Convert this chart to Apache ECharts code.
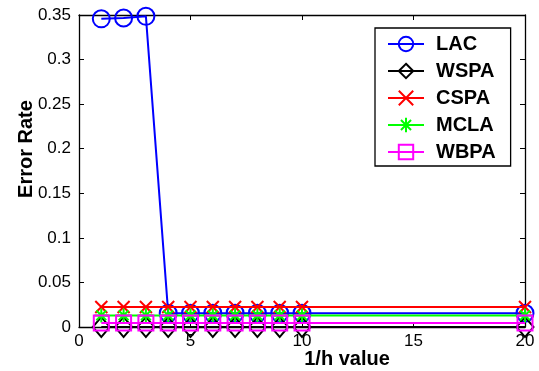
<!DOCTYPE html>
<html>
<head>
<meta charset="utf-8">
<script src="https://cdn.jsdelivr.net/npm/echarts@6/dist/echarts.min.js"></script>
<style>html,body{margin:0;padding:0;background:#fff}#c{width:539px;height:371px}</style>
</head>
<body>
<div id="c"></div>
<script>
var xValues = [1, 2, 3, 4, 5, 6, 7, 8, 9, 10, 20];
var seriesNames = ['LAC', 'WSPA', 'CSPA', 'MCLA', 'WBPA'];
var lacValues  = [0.3457, 0.3466, 0.3485, 0.0155, 0.0155, 0.0155, 0.0155, 0.0155, 0.0155, 0.0155, 0.0155];
var wspaValues = [0, 0, 0, 0, 0, 0, 0, 0, 0, 0, 0];
var cspaValues = [0.0225, 0.0225, 0.0225, 0.0225, 0.0225, 0.0225, 0.0225, 0.0225, 0.0225, 0.0225, 0.0225];
var mclaValues = [0.013, 0.013, 0.013, 0.013, 0.013, 0.013, 0.013, 0.013, 0.013, 0.013, 0.013];
var wbpaValues = [0.0045, 0.0045, 0.0045, 0.0045, 0.0045, 0.0045, 0.0045, 0.0045, 0.0045, 0.0045, 0.0045];
var xTicks = [0, 5, 10, 15, 20];
var yTicks = [0, 0.05, 0.1, 0.15, 0.2, 0.25, 0.3, 0.35];

function pairs(vals) { return xValues.map(function (x, i) { return [x, vals[i]]; }); }

var FONT = '"Liberation Sans", Arial, sans-serif';
var colors = ['#0000ff', '#000000', '#ff0000', '#00ff00', '#ff00ff'];
var symbols = [
  'circle',
  'diamond',
  'path://M0,0L10,10M0,10L10,0',
  'path://M5,0L5,10M0,5L10,5M1.5,1.5L8.5,8.5M1.5,8.5L8.5,1.5',
  'rect'
];
var sizes = [[17, 17], [17, 20], [12, 12], [14, 14], [15, 15]];
var allValues = [lacValues, wspaValues, cspaValues, mclaValues, wbpaValues];

var series = seriesNames.map(function (name, i) {
  return {
    name: name,
    type: 'line',
    data: pairs(allValues[i]),
    symbol: symbols[i],
    symbolSize: sizes[i],
    showAllSymbol: true,
    clip: false,
    lineStyle: { color: colors[i], width: 2 },
    itemStyle: { color: 'rgba(0,0,0,0)', borderColor: colors[i], borderWidth: 2 },
    emphasis: { disabled: true },
    z: 2 + i
  };
});

var chart = echarts.init(document.getElementById('c'));
chart.setOption({
  animation: false,
  backgroundColor: '#fff',
  grid: { left: 79, right: 14, top: 15, bottom: 44, show: false },
  legend: {
    orient: 'vertical',
    left: 375, top: 28,
    padding: [6, 15, 4, 12],
    itemWidth: 36, itemHeight: 18, itemGap: 7,
    backgroundColor: '#fff',
    borderColor: '#000', borderWidth: 1.3,
    textStyle: { fontFamily: FONT, fontWeight: 'bold', fontSize: 20, color: '#000', padding: [0, 0, 0, 7] },
    data: seriesNames
  },
  xAxis: [{
    type: 'value', min: 0, max: 20, interval: 5, position: 'bottom',
    axisLine: { onZero: false, lineStyle: { color: '#000', width: 1.3 } },
    axisTick: { inside: true, length: 5, lineStyle: { color: '#000' } },
    axisLabel: { fontFamily: FONT, fontSize: 17, color: '#000', margin: 6 },
    splitLine: { show: false }
  }, {
    type: 'value', min: 0, max: 20, interval: 5, position: 'top',
    axisLine: { onZero: false, lineStyle: { color: '#000', width: 1.3 } },
    axisTick: { inside: true, length: 5, lineStyle: { color: '#000' } },
    axisLabel: { show: false }, splitLine: { show: false }
  }],
  yAxis: [{
    type: 'value', min: 0, max: 0.35, interval: 0.05, position: 'left',
    axisLine: { show: true, onZero: false, lineStyle: { color: '#000', width: 1.3 } },
    axisTick: { show: true, inside: true, length: 5, lineStyle: { color: '#000' } },
    axisLabel: { fontFamily: FONT, fontSize: 17, color: '#000', margin: 8,
      formatter: function (v) { return String(Math.round(v * 100) / 100); } },
    splitLine: { show: false }
  }, {
    type: 'value', min: 0, max: 0.35, interval: 0.05, position: 'right',
    axisLine: { show: true, onZero: false, lineStyle: { color: '#000', width: 1.3 } },
    axisTick: { show: true, inside: true, length: 5, lineStyle: { color: '#000' } },
    axisLabel: { show: false }, splitLine: { show: false }
  }],
  graphic: [{
    type: 'text', position: [347, 359],
    style: { text: '1/h value', fontFamily: FONT, fontWeight: 'bold', fontSize: 20, fill: '#000',
      textAlign: 'center', textVerticalAlign: 'middle' }
  }, {
    type: 'text', rotation: Math.PI / 2, position: [26, 149],
    style: { text: 'Error Rate', fontFamily: FONT, fontWeight: 'bold', fontSize: 20, fill: '#000',
      textAlign: 'center', textVerticalAlign: 'middle' }
  }],
  series: series
});
</script>
</body>
</html>
